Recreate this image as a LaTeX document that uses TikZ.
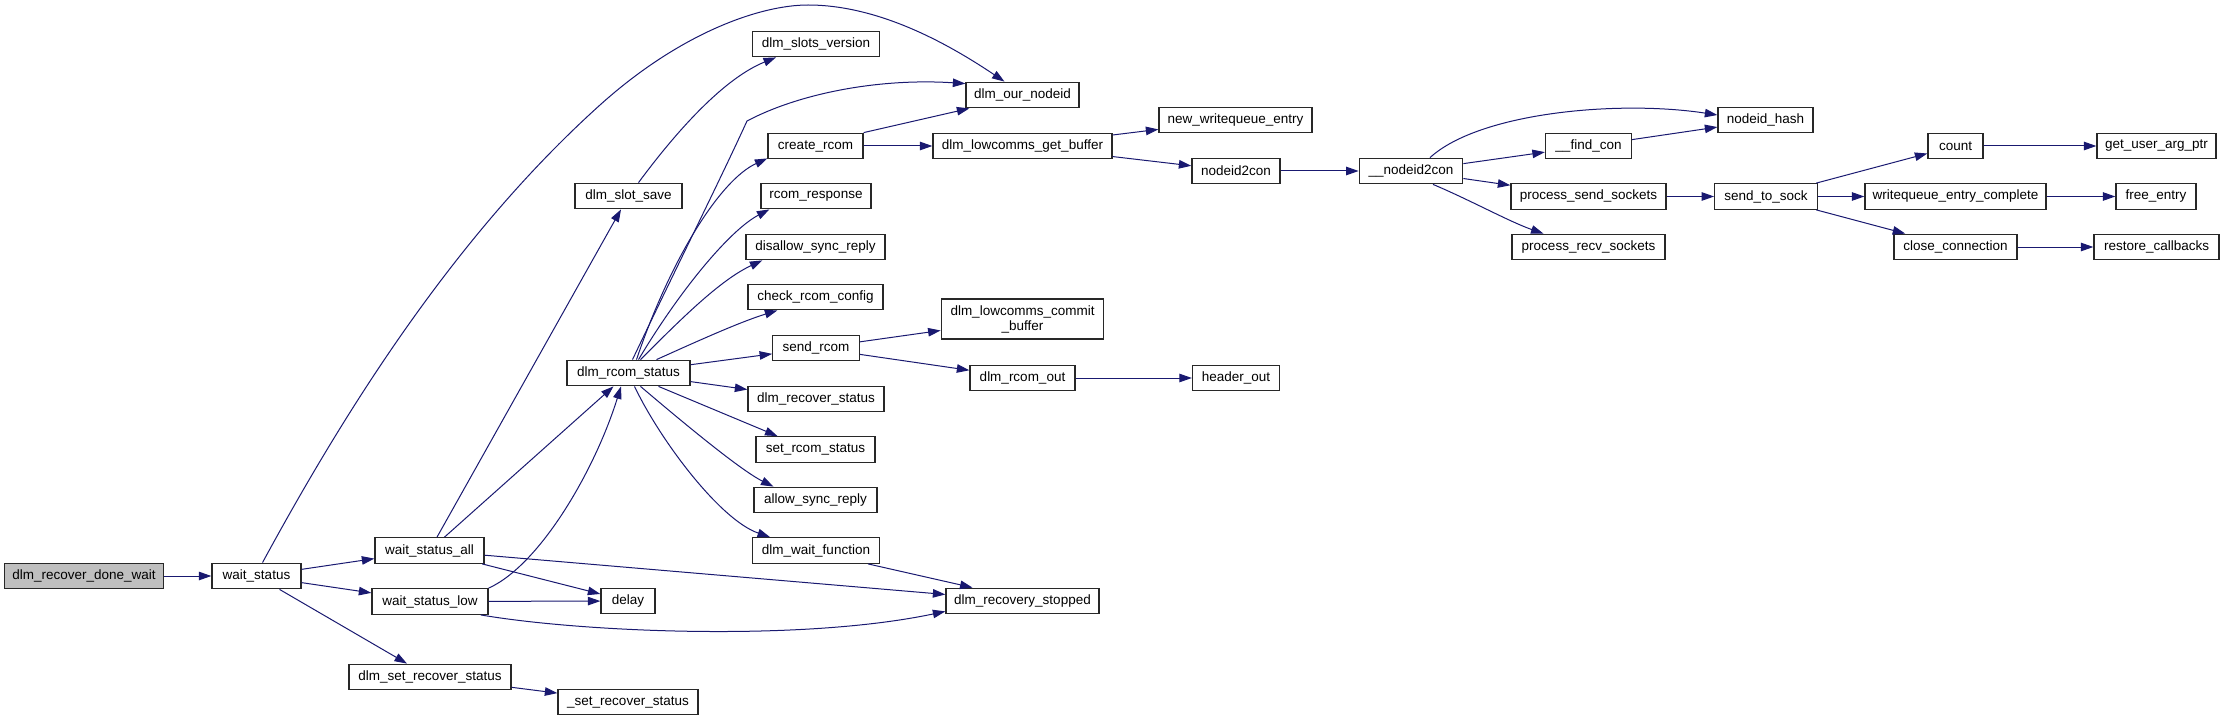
\documentclass[tikz,border=0pt]{standalone}
\usepackage{fontspec}
\setmainfont{Liberation Sans}
\usetikzlibrary{arrows.meta}
\definecolor{midnight}{RGB}{25,25,112}
\definecolor{rootgray}{RGB}{191,191,191}
\definecolor{boxline}{RGB}{40,40,40}
\tikzset{
  box/.style={draw=boxline, line width=1.3pt, fill=white, minimum height=25.5pt,
    inner sep=0pt, anchor=center, font=\fontsize{13.5}{15}\selectfont},
  call/.style={draw=midnight, line width=1pt, -{Triangle[length=12.5pt,width=8.5pt]}}
}
\begin{document}
\begin{tikzpicture}[x=1pt,y=-1pt]
\useasboundingbox (0,0) rectangle (2224,722);
% nodes
\node[box, fill=rootgray, minimum width=159pt] (root) at (84,576) {dlm\_recover\_done\_wait};
\node[box, minimum width=89pt] (ws) at (256.5,576) {wait\_status};
\node[box, minimum width=109pt] (wsa) at (429.5,550.5) {wait\_status\_all};
\node[box, minimum width=116pt] (wsl) at (430,601.5) {wait\_status\_low};
\node[box, minimum width=162pt] (dsrs) at (430,677) {dlm\_set\_recover\_status};
\node[box, minimum width=140pt] (srs) at (628,702) {\_set\_recover\_status};
\node[box, minimum width=127pt] (sv) at (816,44) {dlm\_slots\_version};
\node[box, minimum width=113pt] (on) at (1022.5,95) {dlm\_our\_nodeid};
\node[box, minimum width=107pt] (ss) at (628.5,196) {dlm\_slot\_save};
\node[box, minimum width=95pt] (cr) at (815.5,146) {create\_rcom};
\node[box, minimum width=179pt] (gb) at (1022.5,146) {dlm\_lowcomms\_get\_buffer};
\node[box, minimum width=110pt] (rr) at (816,196) {rcom\_response};
\node[box, minimum width=139pt] (dsr) at (815.5,247) {disallow\_sync\_reply};
\node[box, minimum width=135pt] (crc) at (815.5,297) {check\_rcom\_config};
\node[box, minimum width=86.5pt] (sr) at (816,348) {send\_rcom};
\node[box, minimum width=162.5pt, minimum height=40pt, align=center] (cb) at (1022.5,319) {dlm\_lowcomms\_commit\\\_buffer};
\node[box, minimum width=123pt] (rs) at (628.5,373) {dlm\_rcom\_status};
\node[box, minimum width=105pt] (ro) at (1022.5,378) {dlm\_rcom\_out};
\node[box, minimum width=136pt] (drs) at (816,399) {dlm\_recover\_status};
\node[box, minimum width=119pt] (srst) at (815.5,449.5) {set\_rcom\_status};
\node[box, minimum width=123pt] (asr) at (815.5,500) {allow\_sync\_reply};
\node[box, minimum width=126.5pt] (wf) at (816,550.5) {dlm\_wait\_function};
\node[box, minimum width=54pt] (dl) at (628,601) {delay};
\node[box, minimum width=153pt] (rst) at (1022.5,601) {dlm\_recovery\_stopped};
\node[box, minimum width=153pt] (nwe) at (1235.5,120) {new\_writequeue\_entry};
\node[box, minimum width=88pt] (ntc) at (1236,171) {nodeid2con};
\node[box, minimum width=87pt] (ho) at (1236,378) {header\_out};
\node[box, minimum width=103.5pt] (untc) at (1411,171) {\_\_nodeid2con};
\node[box, minimum width=86pt] (fc) at (1588.5,146) {\_\_find\_con};
\node[box, minimum width=155pt] (pss) at (1588.5,196.5) {process\_send\_sockets};
\node[box, minimum width=153pt] (prs) at (1588.5,247) {process\_recv\_sockets};
\node[box, minimum width=95pt] (nh) at (1765.5,120) {nodeid\_hash};
\node[box, minimum width=102.5pt] (sts) at (1766,196.5) {send\_to\_sock};
\node[box, minimum width=55pt] (cnt) at (1955.5,146) {count};
\node[box, minimum width=119pt] (guap) at (2156.5,146) {get\_user\_arg\_ptr};
\node[box, minimum width=181pt] (wec) at (1955.5,196.5) {writequeue\_entry\_complete};
\node[box, minimum width=80pt] (fe) at (2156,196.5) {free\_entry};
\node[box, minimum width=123pt] (cc) at (1955.5,247) {close\_connection};
\node[box, minimum width=125pt] (rc) at (2156.5,247) {restore\_callbacks};
% edges
\draw[call] (root) -- (ws);
\draw[call] (ws) -- (wsa);
\draw[call] (ws) -- (wsl);
\draw[call] (ws) -- (dsrs);
\draw[call] ([xshift=6pt]ws.north) .. controls (340,420) and (450,240) .. (600,105)
  .. controls (680,33) and (760,5) .. (808,5)
  .. controls (880,5) and (950,45) .. ([xshift=-18pt]on.north);
\draw[call] (wsa) -- (ss);
\draw[call] (wsa) -- (rs);
\draw[call] (wsa) -- (dl);
\draw[call] (wsa) -- (rst);
\draw[call] (wsl.north east) .. controls (540,565) and (595,470) .. ([xshift=-7.5pt]rs.south);
\draw[call] (wsl) -- (dl);
\draw[call] ([xshift=-8pt]wsl.south east) .. controls (580,632) and (800,642) .. ([yshift=3pt]rst.south west);
\draw[call] (dsrs) -- (srs);
\draw[call] ([xshift=10pt]ss.north) .. controls (670,140) and (720,80) .. ([xshift=-40pt]sv.south);
\draw[call] ([xshift=4pt]rs.north) .. controls (680,260) and (720,180) .. (747,121)
  .. controls (800,93) and (880,78) .. ([yshift=-2pt]on.north west);
\draw[call] ([xshift=8pt]rs.north) .. controls (670,260) and (720,180) .. ([yshift=1pt]cr.south west);
\draw[call] ([xshift=10pt]rs.north) .. controls (680,290) and (730,230) .. ([xshift=9pt]rr.south west);
\draw[call] ([xshift=12pt]rs.north) .. controls (680,320) and (720,280) .. ([xshift=17pt]dsr.south west);
\draw[call] ([xshift=28pt]rs.north) .. controls (700,340) and (740,322) .. ([xshift=30pt]crc.south west);
\draw[call] (rs) -- (sr);
\draw[call] (rs) -- (drs);
\draw[call] ([xshift=30pt]rs.south) -- ([xshift=-38pt]srst.north);
\draw[call] ([xshift=12pt]rs.south) .. controls (680,420) and (740,470) .. ([xshift=-42pt]asr.north);
\draw[call] ([xshift=6pt]rs.south) .. controls (660,440) and (720,520) .. ([xshift=-46pt]wf.north);
\draw[call] ([xshift=52pt]wf.south) -- ([xshift=-50pt]rst.north);
\draw[call] (cr.north east) -- ([xshift=4pt]on.south west);
\draw[call] (cr) -- (gb);
\draw[call] (gb) -- (nwe);
\draw[call] (gb) -- (ntc);
\draw[call] (ntc) -- (untc);
\draw[call] ([xshift=19pt]untc.north) .. controls (1480,112) and (1620,100) .. ([yshift=5pt]nh.west);
\draw[call] (untc) -- (fc);
\draw[call] (untc) -- (pss);
\draw[call] ([xshift=22pt]untc.south) .. controls (1470,200) and (1510,222) .. ([xshift=-45pt]prs.north);
\draw[call] (fc) -- (nh);
\draw[call] (pss) -- (sts);
\draw[call] (sts) -- (cnt);
\draw[call] (sts) -- (wec);
\draw[call] (sts) -- (cc);
\draw[call] (cnt) -- (guap);
\draw[call] (wec) -- (fe);
\draw[call] (cc) -- (rc);
\draw[call] (sr) -- (cb);
\draw[call] (sr) -- (ro);
\draw[call] (ro) -- (ho);
\end{tikzpicture}
\end{document}
